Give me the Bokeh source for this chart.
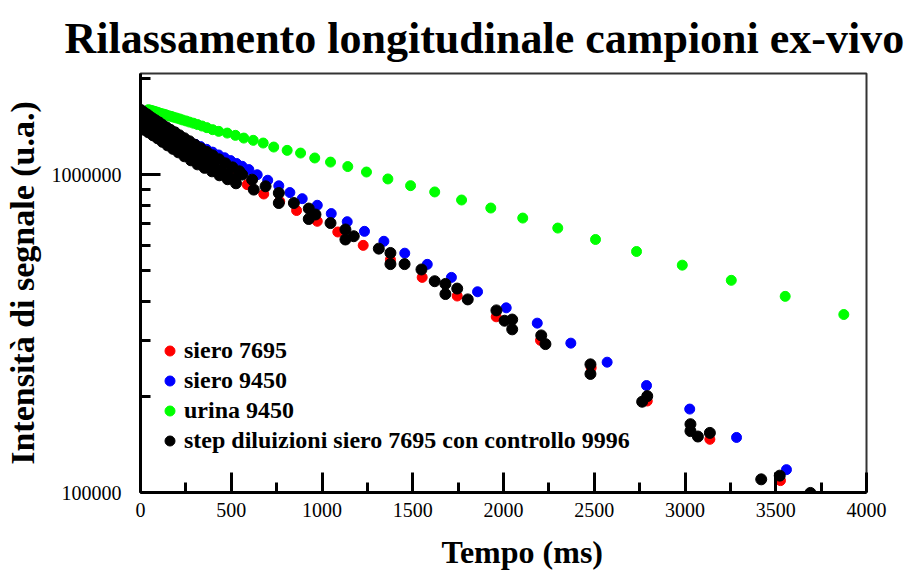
from bokeh.plotting import figure
from bokeh.models import FixedTicker, PrintfTickFormatter, Legend, LegendItem, Range1d, Title
from bokeh.embed import file_html
from bokeh.resources import INLINE

# ---- data (time in ms, signal intensity in a.u.) ----
siero_7695_t = [6, 55, 105, 154, 209, 264, 320, 380, 441, 507, 588, 679, 767, 860, 974, 1087,
                1227, 1377, 1552, 1745, 1960, 2204, 2483, 2792, 3137, 3526]
siero_7695_v = [1398000, 1353000, 1310000, 1264000, 1214000, 1163000, 1117000, 1070000, 1024000,
                981000, 930000, 869000, 824000, 771000, 713000, 660000, 599000, 540000, 475000,
                415000, 357000, 301000, 247000, 194000, 147000, 109000]

siero_9450_t = [6, 28, 50, 72, 94, 116, 140, 165, 193, 220, 248, 275, 303, 331, 364, 397, 430, 463,
                496, 529, 560, 597, 643, 701, 762, 823, 891, 974, 1051, 1139, 1234, 1341, 1456,
                1580, 1713, 1857, 2015, 2186, 2371, 2571, 2788, 3026, 3284, 3559]
siero_9450_v = [1492000, 1471000, 1450000, 1429000, 1408000, 1391000, 1371000, 1350000, 1329000,
                1307000, 1287000, 1265000, 1245000, 1225000, 1201000, 1177000, 1153000, 1130000,
                1107000, 1084000, 1062000, 1037000, 999000, 960000, 922000, 878000, 840000, 801000,
                754000, 711000, 663000, 617000, 566000, 522000, 475000, 428000, 381000, 341000,
                295000, 257000, 217000, 183000, 149000, 118000]

urina_9450_t = [44, 58, 69, 80, 91, 102, 113, 127, 140, 154, 168, 182, 198, 215, 231, 251, 270, 292,
                314, 339, 366, 397, 431, 478, 523, 569, 621, 676, 734, 808, 882, 960, 1047, 1142,
                1245, 1363, 1488, 1621, 1769, 1930, 2106, 2299, 2507, 2733, 2985, 3255, 3552, 3875]
urina_9450_v = [1601000, 1593000, 1586000, 1579000, 1572000, 1564000, 1557000, 1550000, 1542000,
                1532000, 1525000, 1516000, 1507000, 1497000, 1486000, 1475000, 1463000, 1451000,
                1437000, 1422000, 1405000, 1385000, 1368000, 1351000, 1329000, 1303000, 1282000,
                1257000, 1221000, 1192000, 1169000, 1128000, 1095000, 1060000, 1019000, 969000,
                923000, 882000, 832000, 785000, 730000, 679000, 625000, 573000, 519000, 465000,
                414000, 363000]

step_t = [0, 11, 22, 36, 50, 66, 83, 102, 121, 143, 165, 190, 215, 242, 270, 300, 331, 364, 397,
          433, 468, 507, 545,
          0, 17, 33, 50, 69, 88, 110, 132, 157, 182, 209, 237, 267, 298, 331, 366, 402, 441, 479, 521,
          6, 22, 44, 69, 94, 121, 149, 179, 209, 242, 278, 314, 353, 394, 435, 480, 526,
          560, 615, 624, 689, 762, 762, 845, 927, 927, 964, 1047, 1129, 1129, 1175, 1313, 1377, 1377,
          1455, 1548, 1621, 1680, 1680, 1745, 1803, 1961, 2006, 2048, 2048, 2208, 2231, 2479, 2479,
          2764, 2792, 3030, 3030, 3071, 3137, 3420, 3522, 3691]
step_v = [1599000, 1581000, 1564000, 1547000, 1525000, 1503000, 1482000, 1460000, 1434000, 1408000,
          1383000, 1358000, 1329000, 1301000, 1273000, 1241000, 1210000, 1180000, 1150000, 1117000,
          1085000, 1054000, 1024000,
          1503000, 1482000, 1460000, 1439000, 1419000, 1393000, 1368000, 1344000, 1315000, 1287000,
          1254000, 1223000, 1192000, 1163000, 1129000, 1097000, 1066000, 1032000, 1002000, 970000,
          1408000, 1383000, 1358000, 1329000, 1301000, 1268000, 1236000, 1205000, 1175000, 1142000,
          1109000, 1077000, 1050000, 1024000, 995000, 967000, 939000,
          1000000, 964000, 897000, 919000, 875000, 814000, 814000, 782000, 725000, 749000, 704000,
          672000, 625000, 640000, 585000, 567000, 523000, 523000, 503000, 462000, 453000, 421000,
          438000, 405000, 374000, 347000, 350000, 326000, 312000, 293000, 253000, 236000, 193000,
          201000, 164000, 156000, 150000, 154000, 110000, 113000, 99700]

x_major = [0, 500, 1000, 1500, 2000, 2500, 3000, 3500, 4000]
x_minor = [250, 750, 1250, 1750, 2250, 2750, 3250, 3750]
y_major = [100000, 1000000]
y_minor = [200000, 300000, 400000, 500000, 600000, 700000, 800000, 900000, 2000000]

FONT = "Liberation Serif"

p = figure(width=918, height=581, output_backend="svg", toolbar_location=None,
           y_axis_type="log", x_range=Range1d(0, 4000), y_range=Range1d(100000, 2080000),
           min_border_left=140, min_border_right=52, min_border_top=72, min_border_bottom=89,
           background_fill_color="white", border_fill_color="white")

p.title.text = "Rilassamento longitudinale campioni ex-vivo"
p.title.text_font = FONT
p.title.text_font_style = "bold"
p.title.text_font_size = "44px"
p.title.align = "left"
p.title.offset = -76
p.title.standoff = 22
p.title.text_color = "black"

p.xgrid.visible = False
p.ygrid.visible = False
p.outline_line_color = "#333333"
p.outline_line_width = 2

for ax in (p.xaxis[0], p.yaxis[0]):
    ax.axis_line_color = "black"
    ax.axis_line_width = 3
    ax.major_tick_in = 20
    ax.major_tick_out = 0
    ax.minor_tick_in = 10
    ax.minor_tick_out = 0
    ax.major_tick_line_width = 3
    ax.minor_tick_line_width = 3
    ax.major_tick_line_color = "black"
    ax.minor_tick_line_color = "black"
    ax.major_label_text_font = FONT
    ax.major_label_text_font_size = "20px"
    ax.major_label_text_color = "black"
    ax.axis_label_text_font = FONT
    ax.axis_label_text_font_style = "bold"
    ax.axis_label_text_color = "black"

p.xaxis.ticker = FixedTicker(ticks=x_major, minor_ticks=x_minor)
p.yaxis.ticker = FixedTicker(ticks=y_major, minor_ticks=y_minor)
p.yaxis.formatter = PrintfTickFormatter(format="%d")
p.xaxis.major_label_standoff = 10
p.yaxis.major_label_standoff = 19

# x-axis title, placed below the tick labels (slightly right of centre as in the original)
x_title = Title(text="Tempo (ms)", align="left", offset=301, standoff=24,
                text_font=FONT, text_font_style="bold", text_font_size="32px",
                text_color="black")
p.add_layout(x_title, "below")

p.yaxis.axis_label = "Intensità di segnale (u.a.)"
p.yaxis.axis_label_text_font_size = "34px"
p.yaxis.axis_label_standoff = 8

r_green = p.scatter(urina_9450_t, urina_9450_v, size=10, marker="circle",
                    fill_color="#00ff00", line_color="#00ff00")
r_blue = p.scatter(siero_9450_t, siero_9450_v, size=10, marker="circle",
                   fill_color="#0000ff", line_color="#0000ff")
r_red = p.scatter(siero_7695_t, siero_7695_v, size=10, marker="circle",
                  fill_color="#ff0000", line_color="#ff0000")
r_black = p.scatter(step_t, step_v, size=11, marker="circle",
                    fill_color="black", line_color="black")

legend = Legend(items=[
    LegendItem(label="siero 7695", renderers=[r_red]),
    LegendItem(label="siero 9450", renderers=[r_blue]),
    LegendItem(label="urina 9450", renderers=[r_green]),
    LegendItem(label="step diluizioni siero 7695 con controllo 9996", renderers=[r_black]),
], location=(17, 38))
legend.label_text_font = FONT
legend.label_text_font_style = "bold"
legend.label_text_font_size = "24px"
legend.label_text_color = "black"
legend.border_line_color = None
legend.background_fill_alpha = 0
legend.padding = 0
legend.margin = 0
legend.spacing = 3
legend.glyph_width = 25
legend.glyph_height = 25
legend.label_height = 25
legend.label_standoff = 2
p.add_layout(legend)

open("out.html", "w").write(file_html(p, INLINE))
